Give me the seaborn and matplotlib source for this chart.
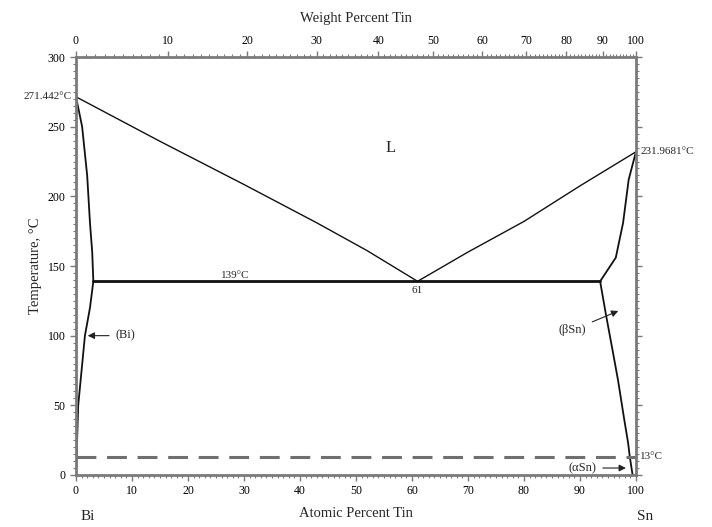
"""
Bi-Sn phase diagram (atomic percent tin on the bottom, weight percent on top).
"""

import matplotlib

matplotlib.use("Agg")
import matplotlib.pyplot as plt
import numpy as np
import seaborn as sns

# boundary curves, (atomic % Sn, temperature in C)
liq_bi_x = [0.0, 15.0, 30.0, 43.0, 52.0, 61.0]
liq_bi_t = [271.442, 239.5, 208.5, 181.0, 161.0, 139.0]
liq_sn_x = [61.0, 70.0, 80.0, 90.0, 100.0]
liq_sn_t = [139.0, 160.0, 182.0, 207.5, 231.9681]
sol_bi_x = [0.0, 1.1, 2.0, 2.5, 2.9, 3.1]
sol_bi_t = [271.442, 250.0, 215.0, 181.0, 160.0, 139.0]
solv_bi_x = [3.1, 2.5, 1.6, 1.0, 0.4, 0.2, 0.0]
solv_bi_t = [139.0, 120.0, 100.0, 75.0, 50.0, 25.0, 0.0]
sol_sn_x = [93.6, 96.4, 97.7, 98.7, 100.0]
sol_sn_t = [139.0, 156.0, 181.0, 212.0, 231.9681]
solv_sn_x = [93.6, 94.6, 95.8, 96.8, 97.9, 98.6, 98.9, 99.4]
solv_sn_t = [139.0, 116.0, 90.0, 68.0, 40.0, 23.0, 13.0, 0.0]
eutectic_x = [3.1, 93.6]
eutectic_t = [139.0, 139.0]
allo_x = [0.0, 100.0]
allo_t = [13.0, 13.0]

at_ticks = list(range(0, 101, 10))
wt_ticks = [0, 10, 20, 30, 40, 50, 60, 70, 80, 90, 100]
t_ticks = [0, 50, 100, 150, 200, 250, 300]

M_SN, M_BI = 118.71, 208.98


def wt_to_at(w):
    w = np.asarray(w, dtype=float)
    a = w / M_SN
    b = (100 - w) / M_BI
    return 100 * a / (a + b)


sns.set_style("ticks")
plt.rcParams["font.family"] = ["Liberation Serif", "DejaVu Serif"]
plt.rcParams["axes.edgecolor"] = "#7a7a7a"

fig = plt.figure(figsize=(7.12, 5.27), dpi=100)
ax = fig.add_axes([0.1067, 0.0987, 0.7865, 0.7931])

curves = [
    (liq_bi_x, liq_bi_t, 1.0),
    (liq_sn_x, liq_sn_t, 1.0),
    (sol_bi_x, sol_bi_t, 1.3),
    (solv_bi_x, solv_bi_t, 1.3),
    (sol_sn_x, sol_sn_t, 1.3),
    (solv_sn_x, solv_sn_t, 1.3),
    (eutectic_x, eutectic_t, 2.0),
]
for xs, ts, lw in curves:
    sns.lineplot(x=xs, y=ts, ax=ax, color="#111111", lw=lw, sort=False,
                 estimator=None)

sns.lineplot(x=allo_x, y=allo_t, ax=ax, color="#6f6f6f", lw=2.2, sort=False,
             estimator=None, dashes=False)
ax.lines[-1].set_dashes([6.5, 3.5])

ax.set_xlim(0, 100)
ax.set_ylim(0, 300)
ax.set_xticks(at_ticks)
ax.set_yticks(t_ticks)
ax.set_xticks(np.arange(0, 101, 1), minor=True)
ax.set_yticks(np.arange(0, 301, 5), minor=True)
ax.tick_params(which="both", direction="out", colors="#7a7a7a",
               labelcolor="black", labelsize=8.5, right=True)
ax.tick_params(which="major", length=4, width=1)
ax.tick_params(which="minor", length=2, width=0.8)
for s in ax.spines.values():
    s.set_linewidth(2)

ax.set_xlabel("Atomic Percent Tin", fontsize=10.5, labelpad=7)
ax.set_ylabel("Temperature, °C", fontsize=10.5, labelpad=4)

top = ax.twiny()
top.set_xlim(0, 100)
top.set_xticks(wt_to_at(wt_ticks))
top.set_xticklabels([str(w) for w in wt_ticks])
top.set_xticks(wt_to_at(np.arange(0, 101, 1)), minor=True)
top.tick_params(which="both", direction="out", colors="#7a7a7a",
                labelcolor="black", labelsize=8.5)
top.tick_params(which="major", length=4, width=1)
top.tick_params(which="minor", length=2, width=0.8)
top.set_xlabel("Weight Percent Tin", fontsize=10.5, labelpad=9)
for s in top.spines.values():
    s.set_visible(False)

# annotations
ax.text(-0.8, 271.442, "271.442°C", ha="right", va="center", fontsize=8)
ax.text(100.8, 231.9681, "231.9681°C", ha="left", va="center", fontsize=8)
ax.text(100.8, 13, "13°C", ha="left", va="center", fontsize=8)
ax.text(56.2, 235, "L", ha="center", va="center", fontsize=12)
ax.text(28.4, 140, "139°C", ha="center", va="bottom", fontsize=8)
ax.text(61, 136, "61", ha="center", va="top", fontsize=8)

arrow = dict(arrowstyle="-|>", color="#222222", lw=0.8, mutation_scale=10)
ax.annotate("(Bi)", xy=(1.6, 100), xytext=(7.0, 100), ha="left", va="center",
            fontsize=9, arrowprops=arrow)
ax.annotate("(βSn)", xy=(97.3, 118.5), xytext=(88.7, 104), ha="center",
            va="center", fontsize=9, arrowprops=arrow)
ax.annotate("(αSn)", xy=(98.7, 5), xytext=(93.0, 5), ha="right", va="center",
            fontsize=9, arrowprops=arrow)

fig.text(88 / 712, 0.02, "Bi", ha="center", va="center", fontsize=11)
fig.text(645 / 712, 0.02, "Sn", ha="center", va="center", fontsize=11)

fig.savefig("out.png", dpi=100)
plt.close(fig)
